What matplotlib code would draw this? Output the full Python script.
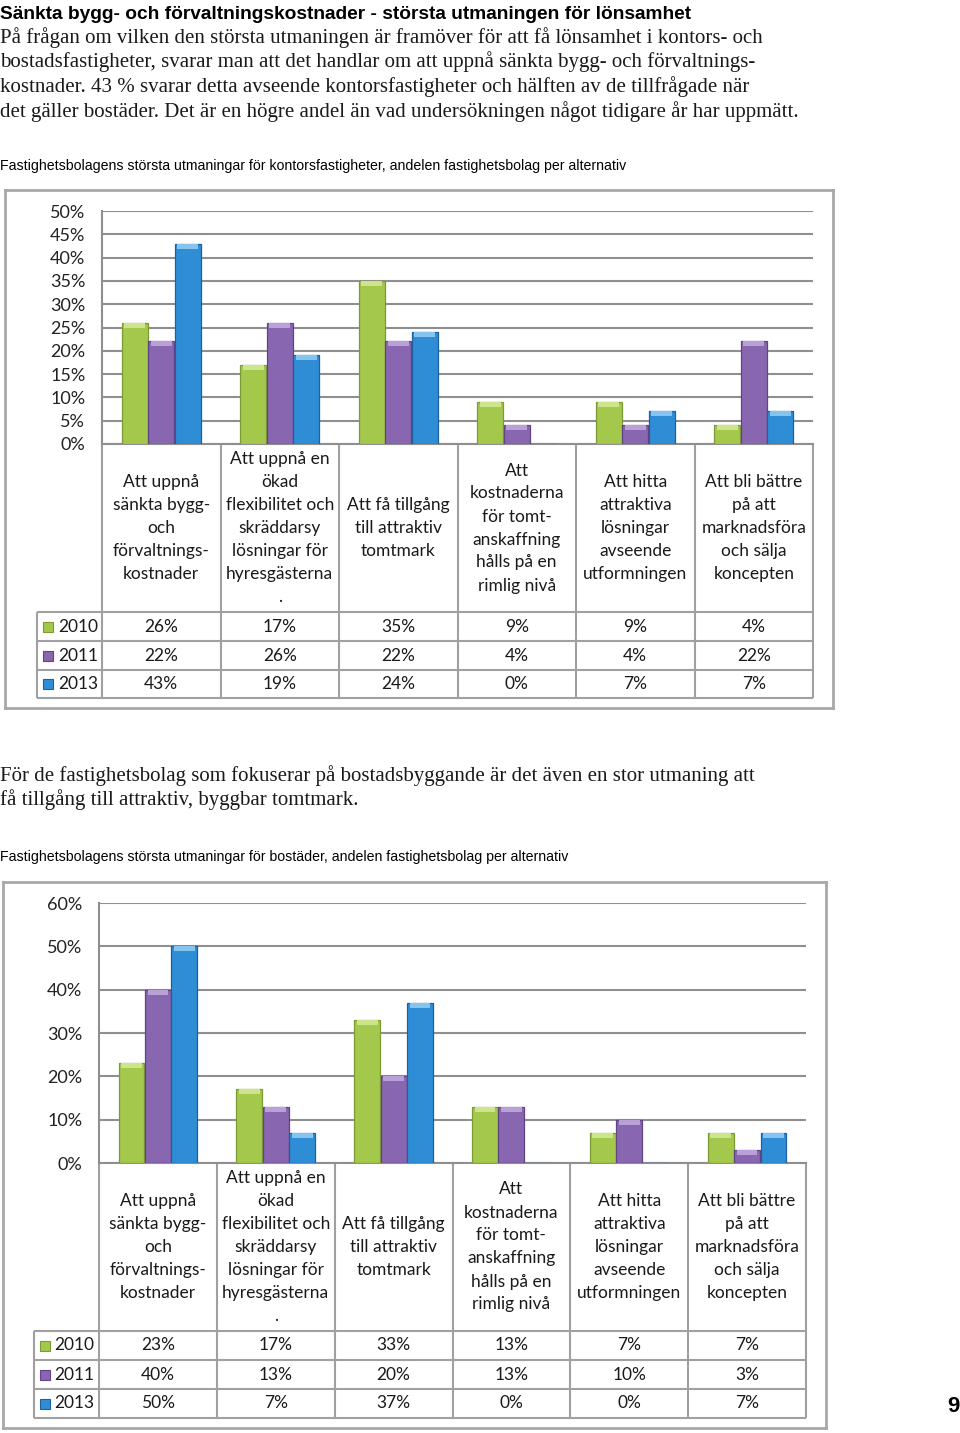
import matplotlib.pyplot as plt
import numpy as np

W, H = 960, 1433

categories = [
    "Att uppnå\nsänkta bygg-\noch\nförvaltnings-\nkostnader",
    "Att uppnå en\nökad\nflexibilitet och\nskräddarsy\nlösningar för\nhyresgästerna\n.",
    "Att få tillgång\ntill attraktiv\ntomtmark",
    "Att\nkostnaderna\nför tomt-\nanskaffning\nhålls på en\nrimlig nivå",
    "Att hitta\nattraktiva\nlösningar\navseende\nutformningen",
    "Att bli bättre\npå att\nmarknadsföra\noch sälja\nkoncepten",
]
years = ["2010", "2011", "2013"]

# kontorsfastigheter (%)
kontor_2010 = [26, 17, 35, 9, 9, 4]
kontor_2011 = [22, 26, 22, 4, 4, 22]
kontor_2013 = [43, 19, 24, 0, 7, 7]

# bostäder (%)
bostad_2010 = [23, 17, 33, 13, 7, 7]
bostad_2011 = [40, 13, 20, 13, 10, 3]
bostad_2013 = [50, 7, 37, 0, 0, 7]

face = ['#a3c84c', '#8966b0', '#2f8dd6']
edge = ['#7c9b36', '#5f4586', '#1f609c']
cap = ['#cde58a', '#b9a0d8', '#86c4f0']
grid_col = '#8f8f8f'
table_col = '#a0a0a0'

chart_font = ['Lato', 'DejaVu Sans']
sans = ['Liberation Sans', 'DejaVu Sans']
serif = ['Liberation Serif', 'DejaVu Serif']


def px_rect(x0, y0, x1, y1):
    return [x0 / W, 1 - y1 / H, (x1 - x0) / W, (y1 - y0) / H]


def ftext(x, y, s, **kw):
    fig.text(x / W, 1 - y / H, s, **kw)


def draw_chart(frame, plot, legend_left, rows, series, ymax, ystep):
    # outer frame
    fr = fig.add_axes(px_rect(*frame), zorder=0)
    fr.set_xticks([])
    fr.set_yticks([])
    fr.patch.set_alpha(0)
    for sp in fr.spines.values():
        sp.set_color('#a8a8a8')
        sp.set_linewidth(2)

    px0, ptop, px1, pbot = plot
    ax = fig.add_axes(px_rect(px0, ptop, px1, pbot), zorder=2)
    ax.set_xlim(0, 6)
    ax.set_ylim(0, ymax)
    ax.set_yticks(np.arange(0, ymax + 1, ystep))
    ax.set_yticklabels([f"{t}%" for t in np.arange(0, ymax + 1, ystep)],
                       family=chart_font, fontsize=13, color='#222222')
    ax.tick_params(axis='y', length=0, pad=12)
    ax.set_xticks([])
    ax.yaxis.grid(True, color=grid_col, lw=1.5)
    ax.set_axisbelow(True)
    for name in ['top', 'right']:
        ax.spines[name].set_visible(False)
    for name in ['left', 'bottom']:
        ax.spines[name].set_color(grid_col)
        ax.spines[name].set_linewidth(1.5)

    x = np.arange(6) + 0.5
    w = 0.22
    capw = 5 * ymax / (pbot - ptop)
    for k, vals in enumerate(series):
        vals = np.array(vals, dtype=float)
        xs = x + (k - 1) * 0.224
        ax.bar(xs, vals, width=w, color=face[k], edgecolor=edge[k], lw=0.9, zorder=3)
        has = vals > 0
        ax.bar(xs[has], np.minimum(capw, vals[has]), bottom=vals[has] - np.minimum(capw, vals[has]),
               width=w * 0.8, color=cap[k], lw=0, zorder=4)

    # data table below the plot
    catw = (px1 - px0) / 6
    lead = (px0 - legend_left) / catw
    tax = fig.add_axes(px_rect(legend_left, pbot, px1, rows[-1]), zorder=1)
    tax.set_xlim(-lead, 6)
    tax.set_ylim(rows[-1], pbot)
    tax.axis('off')
    lk = dict(color=table_col, lw=1.5, clip_on=False)
    tax.vlines(np.arange(0, 7), pbot, rows[-1], **lk)
    tax.vlines([-lead], rows[0], rows[-1], **lk)
    tax.hlines(rows, -lead, 6, **lk)

    hc = (pbot + rows[0]) / 2
    for i, lab in enumerate(categories):
        lines = lab.split("\n")
        n = len(lines)
        for j, line in enumerate(lines):
            tax.text(i + 0.5, hc + (j - (n - 1) / 2) * 23, line, ha='center', va='center',
                     family=chart_font, fontsize=12.5, color='#1a1a1a')

    for k, vals in enumerate(series):
        yc = (rows[k] + rows[k + 1]) / 2
        tax.plot([-lead + 0.09], [yc], marker='s', ms=6.5, mfc=face[k], mec=edge[k], mew=0.8,
                 clip_on=False)
        tax.text(-lead + 0.175, yc, years[k], ha='left', va='center',
                 family=chart_font, fontsize=12.5, color='#1a1a1a')
        for i, v in enumerate(vals):
            tax.text(i + 0.5, yc, f"{v}%", ha='center', va='center',
                     family=chart_font, fontsize=12.5, color='#1a1a1a')


fig = plt.figure(figsize=(W / 100, H / 100), dpi=100)

ftext(0, 19, "Sänkta bygg- och förvaltningskostnader - största utmaningen för lönsamhet",
      family=sans, fontsize=13.8, fontweight='bold', va='baseline')
body1 = [
    "På frågan om vilken den största utmaningen är framöver för att få lönsamhet i kontors- och",
    "bostadsfastigheter, svarar man att det handlar om att uppnå sänkta bygg- och förvaltnings-",
    "kostnader. 43 % svarar detta avseende kontorsfastigheter och hälften av de tillfrågade när",
    "det gäller bostäder. Det är en högre andel än vad undersökningen något tidigare år har uppmätt.",
]
for i, line in enumerate(body1):
    ftext(0, 43 + i * 24.5, line, family=serif, fontsize=15, va='baseline', color='#1a1a1a')
ftext(0, 170, "Fastighetsbolagens största utmaningar för kontorsfastigheter, andelen fastighetsbolag per alternativ",
      family=sans, fontsize=10.2, va='baseline')

draw_chart((5, 190, 833, 708), (102, 211, 813, 444), 37, [612, 641, 670, 698],
           [kontor_2010, kontor_2011, kontor_2013], 50, 5)

body2 = [
    "För de fastighetsbolag som fokuserar på bostadsbyggande är det även en stor utmaning att",
    "få tillgång till attraktiv, byggbar tomtmark.",
]
for i, line in enumerate(body2):
    ftext(0, 781 + i * 24.5, line, family=serif, fontsize=15, va='baseline', color='#1a1a1a')
ftext(0, 861, "Fastighetsbolagens största utmaningar för bostäder, andelen fastighetsbolag per alternativ",
      family=sans, fontsize=10.2, va='baseline')

draw_chart((3, 882, 826, 1428), (99, 903, 806, 1163), 34, [1331, 1360, 1389, 1418],
           [bostad_2010, bostad_2011, bostad_2013], 60, 10)

ftext(953, 1407, "9", family=sans, fontsize=16, fontweight='bold',
      ha='center', va='center')

fig.savefig("out.png", dpi=100)
